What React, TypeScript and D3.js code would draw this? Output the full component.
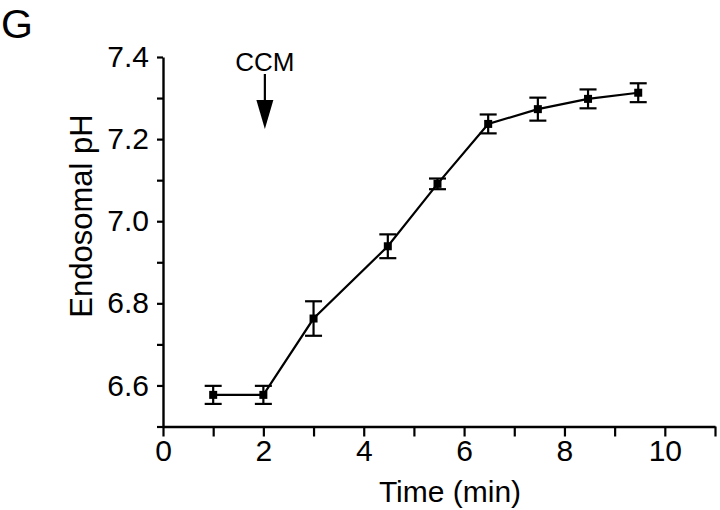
import React, { useEffect, useRef } from "react";
import * as d3 from "d3";

const times = [1, 2, 3, 4.48, 5.47, 6.48, 7.47, 8.47, 9.47];
const phValues = [6.577, 6.577, 6.763, 6.939, 7.091, 7.237, 7.273, 7.298, 7.313];
const phErrors = [0.022, 0.022, 0.042, 0.029, 0.013, 0.023, 0.028, 0.023, 0.023];
const xTickValues = [0, 1, 2, 3, 4, 5, 6, 7, 8, 9, 10, 11];
const xLabelValues = [0, 2, 4, 6, 8, 10];
const yTickValues = [6.5, 6.6, 6.7, 6.8, 6.9, 7.0, 7.1, 7.2, 7.3, 7.4];
const yLabelValues = [6.6, 6.8, 7.0, 7.2, 7.4];
const arrowTime = 2.03;
const arrowLabel = "CCM";
const panelLabel = "G";
const xTitle = "Time (min)";
const yTitle = "Endosomal pH";

export default function App() {
  const ref = useRef<SVGSVGElement | null>(null);
  useEffect(() => {
    const svg = d3.select(ref.current);
    svg.selectAll("*").remove();
    const font = "'Liberation Sans', Arial, Helvetica, sans-serif";
    const x = d3.scaleLinear().domain([0, 11]).range([163, 715]);
    const y = d3.scaleLinear().domain([6.5, 7.4]).range([426.5, 57]);

    // X axis
    const xa = svg.append("g").attr("transform", `translate(0,${y(6.5)})`)
      .call(d3.axisBottom(x).tickValues(xTickValues).tickSize(10).tickSizeOuter(0)
        .tickFormat((d: any) => (xLabelValues.includes(+d) ? String(d) : "")));
    xa.select(".domain").attr("stroke", "#000").attr("stroke-width", 2.4);
    xa.selectAll(".tick line").attr("stroke", "#000").attr("stroke-width", 2.2);
    xa.selectAll(".tick text").attr("font-family", font).attr("font-size", 30).attr("fill", "#000").attr("y", 13);

    // Y axis
    const ya = svg.append("g").attr("transform", `translate(${x(0)},0)`)
      .call(d3.axisLeft(y).tickValues(yTickValues).tickSize(6).tickSizeOuter(0)
        .tickFormat((d: any) => (yLabelValues.some(v => Math.abs(v - d) < 1e-6) ? d3.format(".1f")(d) : "")));
    ya.select(".domain").attr("stroke", "#000").attr("stroke-width", 2.4);
    ya.selectAll(".tick line").attr("stroke", "#000").attr("stroke-width", 2.2);
    ya.selectAll(".tick text").attr("font-family", font).attr("font-size", 30).attr("fill", "#000").attr("x", -14);

    const data = times.map((t, i) => ({ t, v: phValues[i], e: phErrors[i] }));

    // line
    const line = d3.line<any>().x(d => x(d.t)).y(d => y(d.v));
    svg.append("path").datum(data).attr("d", line).attr("fill", "none").attr("stroke", "#000").attr("stroke-width", 2.2);

    // error bars
    const eb = svg.append("g").attr("stroke", "#000").attr("stroke-width", 2.2);
    data.forEach(d => {
      eb.append("line").attr("x1", x(d.t)).attr("x2", x(d.t)).attr("y1", y(d.v - d.e)).attr("y2", y(d.v + d.e));
      [d.v - d.e, d.v + d.e].forEach(v => {
        eb.append("line").attr("x1", x(d.t) - 8.5).attr("x2", x(d.t) + 8.5).attr("y1", y(v)).attr("y2", y(v));
      });
    });

    // markers
    const s = 8;
    svg.append("g").selectAll("rect").data(data).join("rect")
      .attr("x", d => x(d.t) - s / 2).attr("y", d => y(d.v) - s / 2)
      .attr("width", s).attr("height", s).attr("fill", "#000");

    // CCM arrow
    const ax = x(arrowTime);
    svg.append("text").attr("x", ax).attr("y", 71).attr("text-anchor", "middle")
      .attr("font-family", font).attr("font-size", 26).attr("fill", "#000").text(arrowLabel);
    svg.append("line").attr("x1", ax).attr("x2", ax).attr("y1", 74).attr("y2", 101).attr("stroke", "#000").attr("stroke-width", 2.2);
    svg.append("path").attr("d", `M${ax - 8.5},100 L${ax + 8.5},100 L${ax},129 Z`).attr("fill", "#000");

    // titles
    svg.append("text").attr("x", 450).attr("y", 502).attr("text-anchor", "middle")
      .attr("font-family", font).attr("font-size", 30).attr("fill", "#000").text(xTitle);
    svg.append("text").attr("transform", `translate(92,216) rotate(-90)`).attr("text-anchor", "middle")
      .attr("font-family", font).attr("font-size", 31).attr("fill", "#000").text(yTitle);
    svg.append("text").attr("x", 1).attr("y", 38)
      .attr("font-family", font).attr("font-size", 41).attr("fill", "#000").text(panelLabel);
  }, []);
  return (
    <svg ref={ref} width={720} height={510} style={{ position: "absolute", left: 0, top: 0, background: "#fff" }} />
  );
}
